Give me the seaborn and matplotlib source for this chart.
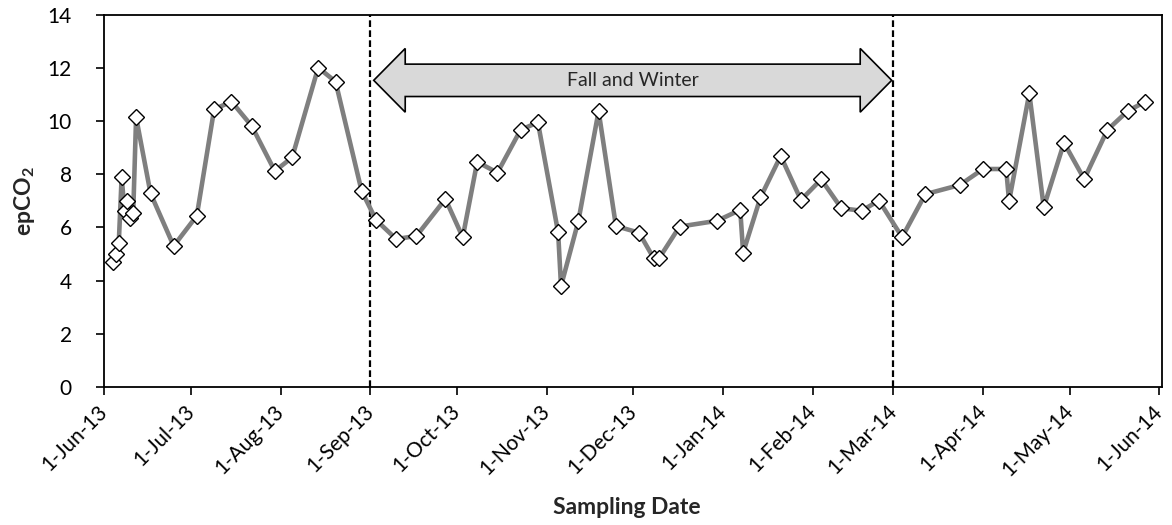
import numpy as np
import pandas as pd
import matplotlib
matplotlib.use("Agg")
import matplotlib.pyplot as plt
import matplotlib.dates as mdates
import matplotlib.transforms as mtransforms
from matplotlib.patches import Polygon
import seaborn as sns

# sampling dates and epCO2 values
sample_dates = [
    "2013-06-04", "2013-06-05", "2013-06-06", "2013-06-07", "2013-06-08",
    "2013-06-09", "2013-06-10", "2013-06-11", "2013-06-12", "2013-06-17",
    "2013-06-25", "2013-07-03", "2013-07-09", "2013-07-15", "2013-07-22",
    "2013-07-30", "2013-08-05", "2013-08-14", "2013-08-20", "2013-08-29",
    "2013-09-03", "2013-09-10", "2013-09-17", "2013-09-27", "2013-10-03",
    "2013-10-08", "2013-10-15", "2013-10-23", "2013-10-29", "2013-11-05",
    "2013-11-06", "2013-11-12", "2013-11-19", "2013-11-25", "2013-12-03",
    "2013-12-08", "2013-12-10", "2013-12-17", "2013-12-30", "2014-01-07",
    "2014-01-08", "2014-01-14", "2014-01-21", "2014-01-28", "2014-02-04",
    "2014-02-11", "2014-02-18", "2014-02-24", "2014-03-04", "2014-03-12",
    "2014-03-24", "2014-04-01", "2014-04-09", "2014-04-10", "2014-04-17",
    "2014-04-22", "2014-04-29", "2014-05-06", "2014-05-14", "2014-05-21",
    "2014-05-27",
]
epco2 = [
    4.7, 5.0, 5.4, 7.9, 6.6, 7.0, 6.35, 6.55, 10.15, 7.28,
    5.3, 6.44, 10.45, 10.74, 9.82, 8.12, 8.64, 12.02, 11.49, 7.38,
    6.28, 5.56, 5.68, 7.07, 5.63, 8.47, 8.06, 9.67, 9.96, 5.81,
    3.79, 6.24, 10.38, 6.05, 5.8, 4.85, 4.85, 6.03, 6.25, 6.66,
    5.05, 7.13, 8.69, 7.03, 7.81, 6.72, 6.63, 7.01, 5.63, 7.25,
    7.6, 8.2, 8.2, 6.99, 11.05, 6.76, 9.19, 7.82, 9.67, 10.38,
    10.73,
]
season_bounds = ["2013-09-01", "2014-03-01"]
season_label = "Fall and Winter"
tick_dates = pd.date_range("2013-06-01", "2014-06-01", freq="MS")

df = pd.DataFrame({"date": pd.to_datetime(sample_dates), "epco2": epco2})

sns.set_theme(style="ticks")
plt.rcParams["font.family"] = ["Lato", "DejaVu Sans"]
plt.rcParams["mathtext.fontset"] = "custom"
plt.rcParams["mathtext.rm"] = "Lato"
plt.rcParams["mathtext.bf"] = "Lato:bold"

fig = plt.figure(figsize=(11.72, 5.25), dpi=100)
ax = fig.add_axes([0.089, 0.2634, 0.9027, 0.708])

sns.lineplot(data=df, x="date", y="epco2", ax=ax, color="#7f7f7f", linewidth=3.3,
             marker="D", markersize=8.5, markerfacecolor="white",
             markeredgecolor="black", markeredgewidth=1.0, zorder=3)

# dashed season boundaries
for d in season_bounds:
    ax.axvline(pd.Timestamp(d), color="black", linestyle=(0, (3, 1.5)),
               linewidth=1.6, zorder=2)

# double-headed block arrow between the boundaries
x0 = mdates.date2num(pd.Timestamp(season_bounds[0])) + 1.2
x1 = mdates.date2num(pd.Timestamp(season_bounds[1])) - 0.6
yc, shaft, head, hl = 11.54, 0.61, 1.2, 10.9
verts = [(x0, yc), (x0 + hl, yc + head), (x0 + hl, yc + shaft),
         (x1 - hl, yc + shaft), (x1 - hl, yc + head), (x1, yc),
         (x1 - hl, yc - head), (x1 - hl, yc - shaft), (x0 + hl, yc - shaft),
         (x0 + hl, yc - head)]
ax.add_patch(Polygon(verts, closed=True, facecolor="#d9d9d9",
                     edgecolor="black", linewidth=1.2, zorder=4))
ax.text((x0 + x1) / 2, yc, season_label, ha="center", va="center",
        fontsize=14, zorder=5)

ax.set_xlim(pd.Timestamp("2013-06-01"), pd.Timestamp("2014-06-02"))
ax.set_ylim(0, 14)
ax.set_yticks(np.arange(0, 15, 2))
ax.set_xticks(tick_dates)
ax.xaxis.set_major_formatter(mdates.DateFormatter("%-d-%b-%y"))
shift = mtransforms.ScaledTranslation(5 / 100, 0, fig.dpi_scale_trans)
for lbl in ax.get_xticklabels():
    lbl.set_rotation(45)
    lbl.set_ha("right")
    lbl.set_va("center")
    lbl.set_rotation_mode("anchor")
    lbl.set_transform(lbl.get_transform() + shift)

ax.tick_params(axis="both", direction="out", length=5.5, width=1.2,
               color="black", labelsize=15, labelcolor="black")
ax.tick_params(axis="x", pad=10)
ax.tick_params(axis="y", pad=18)
for sp in ax.spines.values():
    sp.set_visible(True)
    sp.set_color("black")
    sp.set_linewidth(1.3)

ax.set_xlabel("Sampling Date", fontsize=16.5, fontweight="bold")
ax.set_ylabel(r"epCO$_\mathbf{2}$", fontsize=16.5, fontweight="bold")
ax.xaxis.set_label_coords(0.494, -0.324)
ax.yaxis.set_label_coords(-0.075, 0.5)
ax.xaxis.label.set_va("center")
ax.yaxis.label.set_va("center")

fig.savefig("out.png", dpi=100)
